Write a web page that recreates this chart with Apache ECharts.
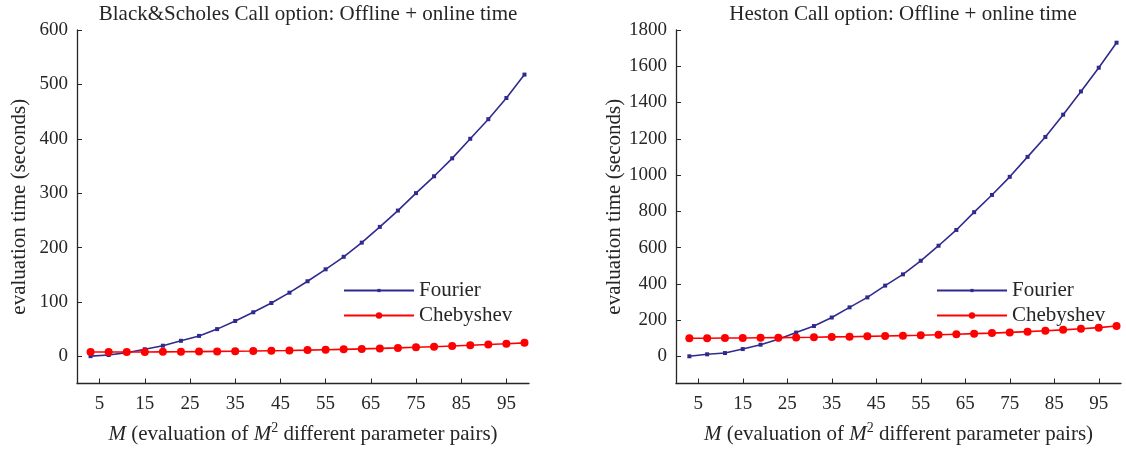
<!DOCTYPE html>
<html>
<head>
<meta charset="utf-8">
<script src="https://cdn.jsdelivr.net/npm/echarts@6/dist/echarts.min.js"></script>
<style>
  html, body { margin: 0; padding: 0; background: #fff; }
  #chart { width: 1126px; height: 450px; }
</style>
</head>
<body>
<div id="chart"></div>
<script>
// Grid size parameter M
const mValues = [3, 7, 11, 15, 19, 23, 27, 31, 35, 39, 43, 47, 51, 55, 59, 63, 67, 71, 75, 79, 83, 87, 91, 95, 99];

// Black&Scholes: offline + online time (seconds)
const bsFourier = [0.3, 2.4, 6.7, 13, 19.5, 28.5, 37.5, 50, 65, 81, 98, 117, 138, 160, 183, 209, 238, 268, 300, 331, 364, 400, 436, 475, 518];
const bsChebyshev = [7.8, 7.8, 7.9, 8.0, 8.2, 8.4, 8.7, 9.0, 9.4, 9.8, 10.3, 10.8, 11.4, 12.1, 12.8, 13.6, 14.5, 15.5, 16.6, 17.7, 18.9, 20.2, 21.6, 23.1, 24.7];

// Heston: offline + online time (seconds)
const hestonFourier = [0, 11, 18, 40, 64, 94, 131, 167, 214, 270, 325, 390, 452, 527, 610, 697, 795, 890, 990, 1100, 1210, 1333, 1461, 1592, 1730];
const hestonChebyshev = [100, 100, 101, 101, 102, 103, 104, 105, 107, 108, 110, 112, 114, 116, 119, 122, 125, 128, 132, 136, 141, 146, 152, 158, 167];

// Tick positions
const xTicks = [5, 15, 25, 35, 45, 55, 65, 75, 85, 95];
const bsYTicks = [0, 100, 200, 300, 400, 500, 600];
const hestonYTicks = [0, 200, 400, 600, 800, 1000, 1200, 1400, 1600, 1800];

const FONT = 'Liberation Serif';
const INK = '#262626';
const BLUE = '#2f2b8e';
const RED = '#ff0000';
const TICK_SIZE = 19;
const TEXT_SIZE = 21;

const pairs = (ys) => mValues.map((m, i) => [m, ys[i]]);
const plain = (v) => String(v);

const xName = '{i|M} (evaluation of {i|M}{sup|2} different parameter pairs)';
const xNameStyle = {
  fontFamily: FONT, fontSize: TEXT_SIZE, color: INK,
  rich: {
    i: { fontFamily: FONT, fontSize: TEXT_SIZE, fontStyle: 'italic', color: INK },
    sup: { fontFamily: FONT, fontSize: 14, color: INK, verticalAlign: 'top', padding: [0, 0, 12, 0] }
  }
};

function xAxisFor(gridIndex) {
  return {
    type: 'value', gridIndex, min: 0, max: 100,
    name: xName, nameLocation: 'middle', nameGap: 38, nameTextStyle: xNameStyle,
    axisLine: { show: true, onZero: false, lineStyle: { color: INK, width: 1.3 } },
    axisTick: { show: true, inside: true, length: 5, customValues: xTicks, lineStyle: { color: INK } },
    axisLabel: { customValues: xTicks, margin: 11, formatter: plain, fontFamily: FONT, fontSize: TICK_SIZE, color: INK },
    splitLine: { show: false }
  };
}

function yAxisFor(gridIndex, min, max, ticks) {
  return {
    type: 'value', gridIndex, min, max,
    name: 'evaluation time (seconds)', nameLocation: 'middle', nameGap: 47,
    nameTextStyle: { fontFamily: FONT, fontSize: TEXT_SIZE, color: INK },
    axisLine: { show: true, onZero: false, lineStyle: { color: INK, width: 1.3 } },
    axisTick: { show: true, inside: true, length: 5, customValues: ticks, lineStyle: { color: INK } },
    axisLabel: { customValues: ticks, margin: 9, formatter: plain, fontFamily: FONT, fontSize: TICK_SIZE, color: INK },
    splitLine: { show: false }
  };
}

function fourierSeries(idx, ys) {
  return {
    name: 'Fourier', type: 'line', xAxisIndex: idx, yAxisIndex: idx, data: pairs(ys),
    symbol: 'rect', symbolSize: 4, showAllSymbol: true,
    lineStyle: { color: BLUE, width: 1.6 }, itemStyle: { color: BLUE }
  };
}

function chebSeries(idx, ys) {
  return {
    name: 'Chebyshev', type: 'line', xAxisIndex: idx, yAxisIndex: idx, data: pairs(ys),
    symbol: 'circle', symbolSize: 8, showAllSymbol: true,
    lineStyle: { color: RED, width: 1.6 }, itemStyle: { color: RED }
  };
}

// One legend entry per component so each keeps its own marker size
function legendEntry(name, left, top, markSize) {
  return {
    left, top, orient: 'vertical',
    itemWidth: 70, itemHeight: markSize,
    textStyle: { fontFamily: FONT, fontSize: TEXT_SIZE, color: INK },
    data: [name]
  };
}

const chart = echarts.init(document.getElementById('chart'), null, { renderer: 'canvas' });
chart.setOption({
  animation: false,
  backgroundColor: '#ffffff',
  title: [
    { text: 'Black&Scholes Call option: Offline + online time', left: 303, top: -1, textAlign: 'center',
      textStyle: { fontFamily: FONT, fontSize: TEXT_SIZE, fontWeight: 'normal', color: INK } },
    { text: 'Heston Call option: Offline + online time', left: 898, top: -1, textAlign: 'center',
      textStyle: { fontFamily: FONT, fontSize: TEXT_SIZE, fontWeight: 'normal', color: INK } }
  ],
  legend: [
    legendEntry('Fourier', 338, 275, 4), legendEntry('Chebyshev', 338, 300, 8),
    legendEntry('Fourier', 931, 275, 4), legendEntry('Chebyshev', 931, 300, 8)
  ],
  grid: [
    { left: 77, top: 30, width: 452, height: 358 },
    { left: 676, top: 30, width: 445, height: 358 }
  ],
  xAxis: [xAxisFor(0), xAxisFor(1)],
  yAxis: [yAxisFor(0, -50, 600, bsYTicks), yAxisFor(1, -150, 1800, hestonYTicks)],
  series: [
    fourierSeries(0, bsFourier), chebSeries(0, bsChebyshev),
    fourierSeries(1, hestonFourier), chebSeries(1, hestonChebyshev)
  ]
});
</script>
</body>
</html>
